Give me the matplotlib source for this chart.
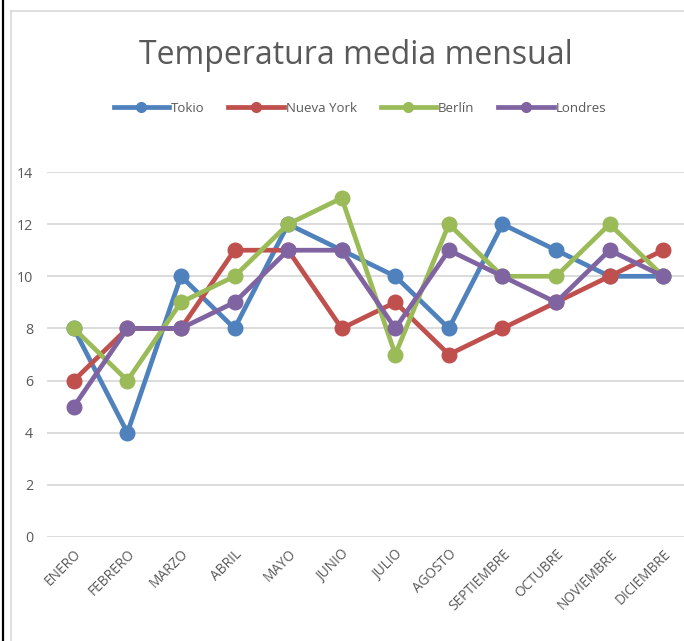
import matplotlib
matplotlib.use("Agg")
import matplotlib.pyplot as plt
from matplotlib.lines import Line2D

meses = ["ENERO", "FEBRERO", "MARZO", "ABRIL", "MAYO", "JUNIO", "JULIO",
         "AGOSTO", "SEPTIEMBRE", "OCTUBRE", "NOVIEMBRE", "DICIEMBRE"]
tokio = [8, 4, 10, 8, 12, 11, 10, 8, 12, 11, 10, 10]
nueva_york = [6, 8, 8, 11, 11, 8, 9, 7, 8, 9, 10, 11]
berlin = [8, 6, 9, 10, 12, 13, 7, 12, 10, 10, 12, 10]
londres = [5, 8, 8, 9, 11, 11, 8, 11, 10, 9, 11, 10]
series = [("Tokio", tokio, "#4F81BD"), ("Nueva York", nueva_york, "#C0504D"),
          ("Berlín", berlin, "#9BBB59"), ("Londres", londres, "#8064A2")]
yticks = [0, 2, 4, 6, 8, 10, 12, 14]

plt.rcParams["font.family"] = ["Open Sans", "DejaVu Sans"]
W, H = 684, 641
fig = plt.figure(figsize=(W / 100, H / 100), dpi=100)
ax = fig.add_axes([47 / W, 1 - 537 / H, (690 - 47) / W, (537 - 172) / H])

x = list(range(len(meses)))
handles = []
for name, vals, col in series:
    ax.plot(x, vals, color=col, lw=3.4, marker="o", ms=10.5,
            solid_joinstyle="round", label=name, clip_on=False)
    handles.append(Line2D([], [], color=col, lw=3.4, marker="o", ms=7))

ax.set_xlim(-0.5, 11.5)
ax.set_ylim(0, 14)
ax.set_yticks(yticks)
ax.set_xticks(x)
ax.set_xticklabels(meses, rotation=45, ha="right", rotation_mode="anchor")
ax.tick_params(axis="both", length=0, labelsize=10.3, colors="#595959")
ax.tick_params(axis="x", labelsize=9.8, pad=7)
ax.tick_params(axis="y", pad=10)
ax.grid(axis="y", color="#D9D9D9", lw=1.3)
ax.set_axisbelow(True)
for s in ax.spines.values():
    s.set_visible(False)

fig.text(356 / W, 1 - 56 / H, "Temperatura media mensual", ha="center", va="center",
         fontsize=23, color="#595959")
fig.legend(handles, [s[0] for s in series], loc="center", bbox_to_anchor=(360 / W, 1 - 108 / H),
           ncol=4, frameon=False, fontsize=9.5, labelcolor="#595959", handlelength=4.2,
           handletextpad=0.15, columnspacing=1.8)

# chart frame
fig.add_artist(Line2D([3 / W, 3 / W], [0, 1], color="black", lw=1.6))
fig.add_artist(Line2D([11 / W, 11 / W], [0, 1 - 11 / H], color="#D9D9D9", lw=1.2))
fig.add_artist(Line2D([11 / W, 1], [1 - 11 / H, 1 - 11 / H], color="#D9D9D9", lw=1.2))

fig.savefig("out.png", dpi=100)
